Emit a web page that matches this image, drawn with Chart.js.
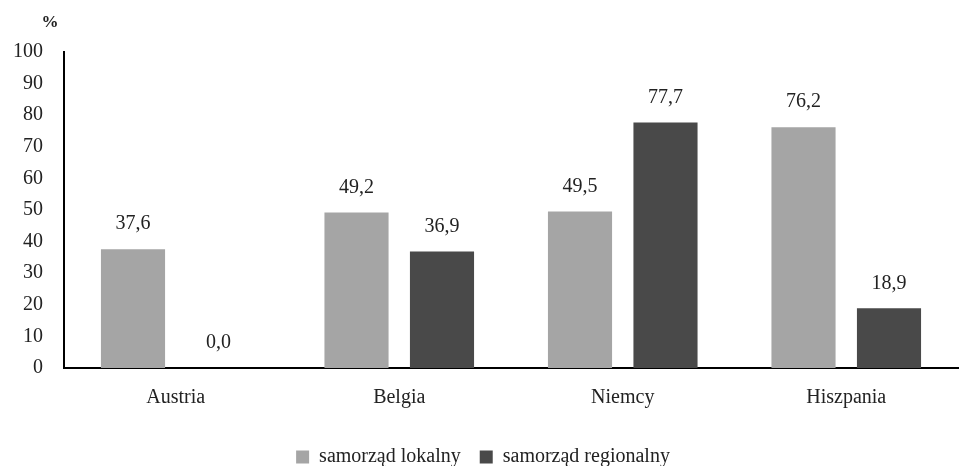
<!DOCTYPE html>
<html>
<head>
<meta charset="utf-8">
<script src="https://cdn.jsdelivr.net/npm/chart.js@4"></script>
<style>
  html, body { margin: 0; padding: 0; background: #fff; }
  #wrap { width: 959px; height: 466px; }
</style>
</head>
<body>
<div id="wrap"><canvas id="chart"></canvas></div>
<script>
let countries = ["Austria", "Belgia", "Niemcy", "Hiszpania"];
let localShare = [37.6, 49.2, 49.5, 76.2];
let regionalShare = [0.0, 36.9, 77.7, 18.9];
let seriesNames = ["samorząd lokalny", "samorząd regionalny"];

let fontFamily = "'Liberation Serif', 'DejaVu Serif', serif";

// labels above each bar, with a comma as decimal sign
let valueLabels = {
    id: "valueLabels",
    afterDatasetsDraw(chart) {
        let ctx = chart.ctx;
        ctx.save();
        ctx.font = "20px " + fontFamily;
        ctx.fillStyle = "#222";
        ctx.textAlign = "center";
        ctx.textBaseline = "middle";
        chart.data.datasets.forEach((ds, i) => {
            chart.getDatasetMeta(i).data.forEach((bar, j) => {
                let text = ds.data[j].toFixed(1).replace(".", ",");
                ctx.fillText(text, bar.x, bar.y - 25);
            });
        });
        ctx.restore();
    }
};

// the "%" unit over the y axis
let unitLabel = {
    id: "unitLabel",
    afterDraw(chart) {
        let ctx = chart.ctx;
        ctx.save();
        ctx.font = "bold 17px " + fontFamily;
        ctx.fillStyle = "#222";
        ctx.textAlign = "center";
        ctx.textBaseline = "middle";
        ctx.fillText("%", chart.chartArea.left - 14, chart.chartArea.top - 29);
        ctx.restore();
    }
};

new Chart(document.getElementById("chart"), {
    type: "bar",
    data: {
        labels: countries,
        datasets: [
            {
                label: seriesNames[0],
                data: localShare,
                backgroundColor: "#a5a5a5",
                categoryPercentage: 0.765,
                barPercentage: 0.75
            },
            {
                label: seriesNames[1],
                data: regionalShare,
                backgroundColor: "#494949",
                categoryPercentage: 0.765,
                barPercentage: 0.75
            }
        ]
    },
    options: {
        responsive: true,
        maintainAspectRatio: false,
        animation: false,
        layout: { padding: { top: 52, right: 1, left: 8, bottom: -11 } },
        plugins: {
            legend: {
                position: "bottom",
                labels: {
                    font: { family: fontFamily, size: 20 },
                    color: "#222",
                    boxWidth: 13,
                    boxHeight: 13,
                    padding: 19
                }
            },
            tooltip: { enabled: false }
        },
        scales: {
            x: {
                grid: { display: false, drawTicks: false },
                border: { color: "#000", width: 2 },
                ticks: { font: { family: fontFamily, size: 20 }, color: "#222", padding: 18 }
            },
            y: {
                min: 0,
                max: 100,
                afterFit(scale) { scale.width = 56; },
                grid: { display: false, drawTicks: false },
                border: { color: "#000", width: 2 },
                ticks: { stepSize: 10, font: { family: fontFamily, size: 20 }, color: "#222", padding: 21 }
            }
        }
    },
    plugins: [valueLabels, unitLabel]
});
</script>
</body>
</html>
